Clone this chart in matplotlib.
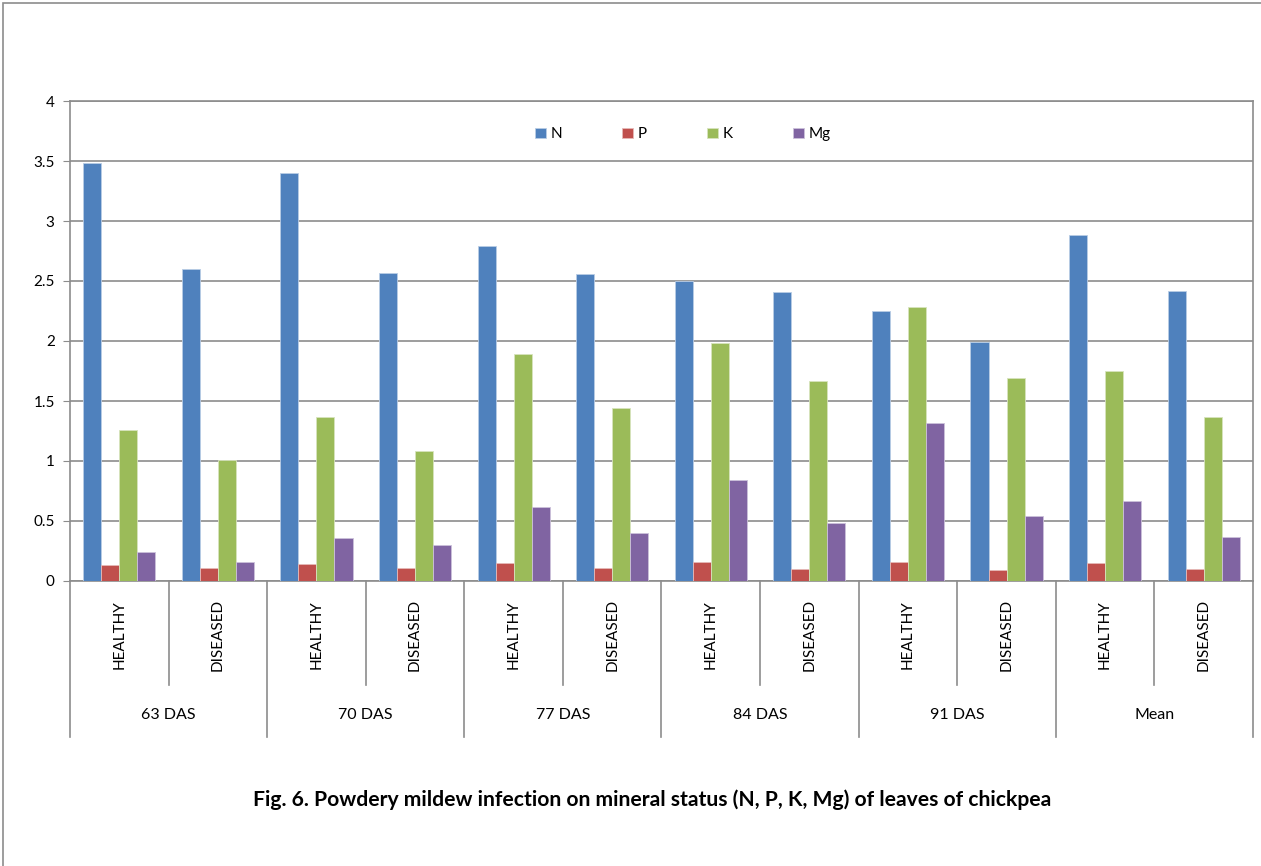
import numpy as np
import matplotlib.pyplot as plt
from matplotlib.transforms import blended_transform_factory
from matplotlib.patches import Rectangle

stages = ["63 DAS", "70 DAS", "77 DAS", "84 DAS", "91 DAS", "Mean"]
status = ["HEALTHY", "DISEASED"]
nutrients = ["N", "P", "K", "Mg"]

n_vals = [3.48, 2.60, 3.40, 2.57, 2.79, 2.56, 2.50, 2.41, 2.25, 1.99, 2.88, 2.42]
p_vals = [0.13, 0.11, 0.14, 0.11, 0.15, 0.11, 0.16, 0.10, 0.16, 0.09, 0.15, 0.10]
k_vals = [1.26, 1.01, 1.37, 1.08, 1.89, 1.44, 1.98, 1.67, 2.28, 1.69, 1.75, 1.37]
mg_vals = [0.24, 0.16, 0.36, 0.30, 0.62, 0.40, 0.84, 0.48, 1.32, 0.54, 0.67, 0.37]

colors = ["#4F81BD", "#C0504D", "#9BBB59", "#8064A2"]
edges = ["#B9CDE5", "#E6B9B8", "#D7E4BD", "#CCC1DA"]

plt.rcParams['font.family'] = ['Lato', 'DejaVu Sans']

W, H = 1261, 866
fig = plt.figure(figsize=(W / 100, H / 100), dpi=100)

# plot area in pixels
left, right, top, bottom = 70, 1253, 101, 581
ax = fig.add_axes([left / W, 1 - bottom / H, (right - left) / W, (bottom - top) / H])

# outer chart border (only top and left edges are visible)
fig.patches.append(Rectangle((3 / W, -0.1), 1.2, 1 - 3 / H + 0.1, transform=fig.transFigure,
                             fill=False, edgecolor="#8C8C8C", linewidth=1.2))

x = np.arange(len(n_vals))
w = 0.183
series = [n_vals, p_vals, k_vals, mg_vals]
for i, vals in enumerate(series):
    ax.bar(x + (i - 1.5) * w, vals, width=w, color=colors[i], edgecolor=edges[i],
           linewidth=0.6, label=nutrients[i], zorder=3)

ax.set_xlim(-0.5, len(n_vals) - 0.5)
ax.set_ylim(0, 4)
ax.set_yticks(np.arange(0, 4.01, 0.5))
ax.set_yticklabels(["%g" % v for v in np.arange(0, 4.01, 0.5)], fontsize=11)
ax.yaxis.grid(True, color="#8C8C8C", linewidth=1.2, zorder=0)
ax.tick_params(axis="y", length=5, color="#8C8C8C", pad=6)
ax.set_xticks([])
for s in ax.spines.values():
    s.set_color("#8C8C8C")
    s.set_linewidth(1.2)

ax.legend(loc="upper center", bbox_to_anchor=(0.518, 0.974), ncol=4, frameon=False,
          fontsize=11, handlelength=0.7, handleheight=0.7, handletextpad=0.3,
          columnspacing=3.95)

# two-level category axis below the plot
def py(p):
    return -(p - bottom) / (bottom - top)

tr = blended_transform_factory(ax.transData, ax.transAxes)
for b in np.arange(-0.5, len(n_vals), 1.0):
    low = py(737) if int(b + 0.5) % 2 == 0 else py(685)
    ax.plot([b, b], [0, low], transform=tr, color="#8C8C8C", linewidth=1.2, clip_on=False)

for i in x:
    ax.text(i, py(635), status[i % 2], transform=tr, rotation=90, ha="center", va="center",
            fontsize=11)
for j, st in enumerate(stages):
    ax.text(2 * j + 0.5, py(715), st, transform=tr, ha="center", va="center", fontsize=11.5)

fig.text(652 / W, 1 - 800 / H, "Fig. 6. Powdery mildew infection on mineral status (N, P, K, Mg) of leaves of chickpea",
         ha="center", va="center", fontsize=15.2, fontweight="bold")

fig.savefig("out.png", dpi=100)
